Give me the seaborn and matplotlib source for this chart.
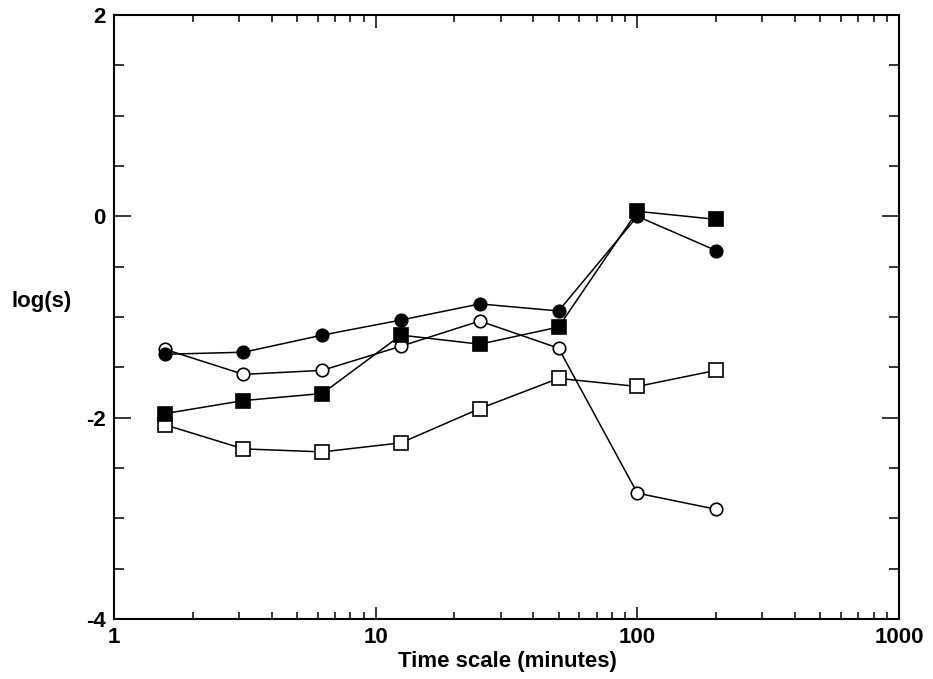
import numpy as np
import pandas as pd
import matplotlib
matplotlib.use("Agg")
import matplotlib.pyplot as plt
import matplotlib.ticker as mticker
import seaborn as sns

time_scale = [1.5625, 3.125, 6.25, 12.5, 25, 50, 100, 200]
filled_circle = [-1.37, -1.35, -1.18, -1.03, -0.87, -0.94, 0.00, -0.34]
open_circle = [-1.32, -1.57, -1.53, -1.29, -1.04, -1.31, -2.75, -2.91]
filled_square = [-1.96, -1.83, -1.76, -1.18, -1.27, -1.10, 0.05, -0.03]
open_square = [-2.07, -2.31, -2.34, -2.25, -1.91, -1.61, -1.69, -1.53]
x_ticks = [1, 10, 100, 1000]
y_ticks = [-4, -2, 0, 2]

sns.set_style("ticks")
plt.rcParams["font.family"] = ["Liberation Sans", "DejaVu Sans"]
plt.rcParams["text.color"] = "black"
plt.rcParams["axes.labelcolor"] = "black"

fig = plt.figure(figsize=(9.33, 6.79), dpi=100)
ax = fig.add_axes([114 / 933, 1 - 619 / 679, (899 - 114) / 933, (619 - 15) / 679])

series = [
    (open_square, "s", "white", 10),
    (open_circle, "o", "white", 9),
    (filled_square, "s", "black", 10),
    (filled_circle, "o", "black", 9),
]
for vals, mk, fc, ms in series:
    df = pd.DataFrame({"t": time_scale, "v": vals})
    sns.lineplot(data=df, x="t", y="v", ax=ax, sort=False, color="black",
                 linewidth=1.1, marker=mk, markersize=ms, markerfacecolor=fc,
                 markeredgecolor="black", markeredgewidth=1.2)

ax.set_xscale("log")
ax.set_xlim(1, 1000)
ax.set_ylim(-4, 2)
ax.set_xticks(x_ticks)
ax.xaxis.set_major_formatter(mticker.FuncFormatter(lambda v, p: f"{int(round(v))}"))
ax.xaxis.set_minor_locator(mticker.LogLocator(base=10, subs=np.arange(2, 10)))
ax.xaxis.set_minor_formatter(mticker.NullFormatter())
ax.set_yticks(y_ticks)
ax.yaxis.set_major_formatter(mticker.FuncFormatter(lambda v, p: f"{int(round(v))}".replace("\u2212", "-")))
ax.yaxis.set_minor_locator(mticker.MultipleLocator(0.5))

for lab in ax.get_xticklabels() + ax.get_yticklabels():
    lab.set_fontweight("bold")
ax.tick_params(axis="both", which="both", direction="in", top=True, right=True,
               labelsize=16, width=1.1, colors="black", labelcolor="black")
ax.tick_params(axis="x", which="major", length=9, pad=6)
ax.tick_params(axis="x", which="minor", length=5)
ax.tick_params(axis="y", which="major", length=12, pad=6)
ax.tick_params(axis="y", which="minor", length=7)

for sp in ax.spines.values():
    sp.set_linewidth(1.5)
    sp.set_color("black")
    sp.set_visible(True)

ax.set_xlabel("Time scale (minutes)", fontsize=16, fontweight="bold", va="center")
ax.set_ylabel("log(s)", fontsize=16, fontweight="bold", rotation=0, va="center", ha="center")
ax.yaxis.set_label_coords((42 - 114) / 785, (619 - 302) / 604)
ax.xaxis.set_label_coords((507 - 114) / 785, -(661 - 619) / 604)

fig.savefig("out.png", dpi=100, facecolor="white")
